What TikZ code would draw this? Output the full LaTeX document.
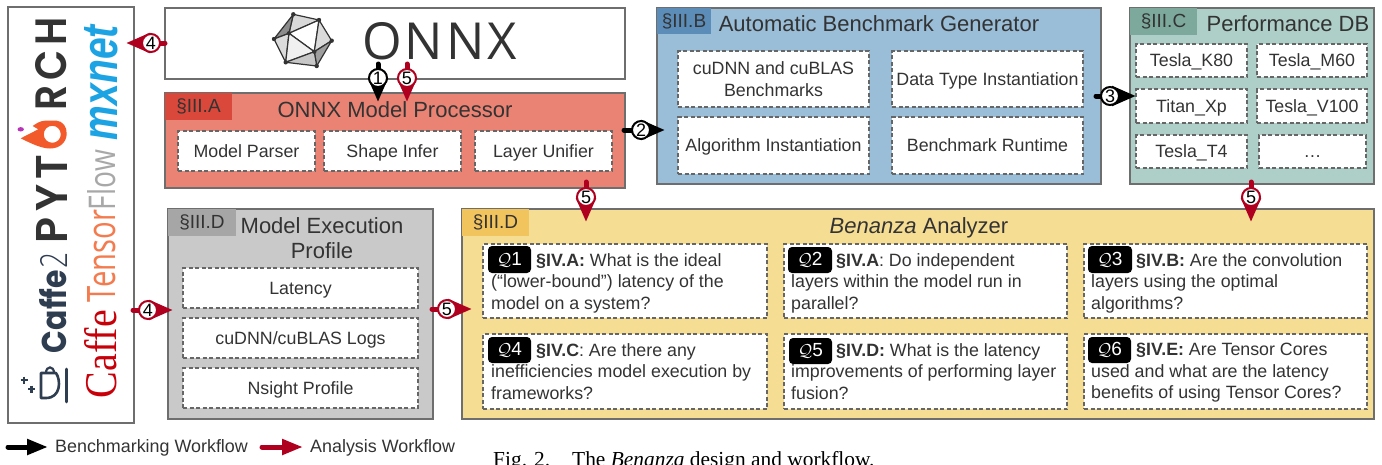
\documentclass[tikz,border=0pt]{standalone}
\usepackage{graphicx}
\usepackage{fontspec}
\setmainfont{Liberation Sans}
\newfontfamily\popf{Poppins}
\newfontfamily\popsemi{Poppins SemiBold}
\newfontfamily\opf{Open Sans}
\newfontfamily\serf{Liberation Serif}
\usetikzlibrary{arrows.meta}
\definecolor{ink}{HTML}{333333}
\definecolor{edge}{HTML}{6E6E6E}
\definecolor{dashc}{HTML}{666666}
\definecolor{redfill}{HTML}{EB8374}
\definecolor{redtag}{HTML}{D9483B}
\definecolor{bluefill}{HTML}{9ABDD8}
\definecolor{bluetag}{HTML}{5C8DB8}
\definecolor{tealfill}{HTML}{AECFC7}
\definecolor{tealtag}{HTML}{7CA99C}
\definecolor{grayfill}{HTML}{C9C9C9}
\definecolor{graytag}{HTML}{A6A6A6}
\definecolor{yelfill}{HTML}{F6DD94}
\definecolor{yeltag}{HTML}{F2C45E}
\definecolor{flowred}{HTML}{B00020}
\definecolor{torch}{HTML}{F2592B}
\definecolor{navy}{HTML}{2F3D50}
\newcommand{\fsz}[1]{\fontsize{#1pt}{21.5pt}\selectfont}
\newcommand{\bx}[7]{\node[#2,anchor=north west,minimum width={(#5-#3)*1pt},minimum height={(#6-#4)*1pt}] (#1) at (#3,#4) {#7};}
\newcommand{\flowarrow}[9]{%
  \coordinate (#1s) at (#3,#4); \coordinate (#1e) at (#7,#8);
  \draw[#2] (#1s) -- (#1e);
  \node[#2num] (#1n) at (#5,#6) {#9};}
\tikzset{
  x=1pt,y=-1pt,
  panel/.style={draw=edge,line width=2pt,inner sep=0pt,outer sep=0pt,text=ink,align=center},
  sectag/.style={fill=#1,inner sep=0pt,outer sep=0pt,text=ink,font=\fsz{19}},
  title/.style={text=ink,font=\fsz{22},inner sep=0pt,align=center,text depth=0pt},
  qbox/.style={draw=dashc,fill=white,line width=1.5pt,dash pattern=on 4pt off 2.5pt,inner sep=0pt,outer sep=0pt},
  dboxtwo/.style={qbox,text=ink,font=\fsz{17.8},align=center},
  dbox/.style={dboxtwo,text height=13pt,text depth=1pt},
  qtext/.style={anchor=north west,inner sep=0pt,text=ink,font=\fsz{17.8},align=left},
  badge/.style={fill=black,rounded corners=4pt,inner sep=0pt,outer sep=0pt,text=white,font=\fsz{19}},
  logo/.style={rotate=90,inner sep=0pt,outer sep=0pt},
  wfblack/.style={line width=5pt,black,line cap=round,-{Triangle[length=24pt,width=19pt]}},
  wfred/.style={line width=5pt,flowred,line cap=round,-{Triangle[length=24pt,width=19pt]}},
  wfblacknum/.style={circle,draw=black,fill=white,line width=2pt,inner sep=0pt,minimum size=18pt,text=black,font=\fsz{18}},
  wfrednum/.style={circle,draw=flowred,fill=white,line width=2pt,inner sep=0pt,minimum size=18pt,text=black,font=\fsz{18}},
  legblack/.style={line width=5pt,black,line cap=round,-{Triangle[length=21pt,width=15pt]}},
  legred/.style={line width=5pt,flowred,line cap=round,-{Triangle[length=21pt,width=15pt]}},
  legtext/.style={anchor=west,inner sep=0pt,text=ink,font=\fsz{17.9}},
  captext/.style={anchor=base west,inner sep=0pt,text=black,font=\serf\fsz{21.4}},
  ico/.style={draw=ink,line width=1.2pt,line join=round},
}
\begin{document}
\begin{tikzpicture}
\clip (0,0) rectangle (1382,464);
% ---- frameworks
\bx{fw}{panel,fill=white}{8}{7}{134}{423}{}
\node[logo] (ptA) at (51.5,199) {\resizebox{88pt}{31pt}{\popsemi\addfontfeature{LetterSpace=12}\color{ink}PYT}};
\node[logo] (ptB) at (51.5,63.5) {\resizebox{93pt}{31pt}{\popsemi\addfontfeature{LetterSpace=12}\color{ink}RCH}};
\fill[torch,even odd rule] (20.7,138.3) -- (38.3,129.3) .. controls (35,128) .. (32.7,126) .. controls (37,123) and (40,121) .. (45,120.7) -- (56,120.5) .. controls (63,121) and (67,127) .. (66.7,134) .. controls (66.5,142) and (60,148.5) .. (50,148.5) .. controls (42,148.5) and (32,144) .. (20.7,138.3) -- cycle (60.8,134.3) arc[start angle=0,end angle=360,radius=8.5];
\fill[violet!70!magenta!80!white] (20.7,129.3) ellipse[x radius=3.2,y radius=2.2];
\node[logo] (cf2a) at (53.5,311.5) {\resizebox{83pt}{27pt}{\popf\bfseries\color{navy}Caffe}};
\node[logo] (cf2b) at (53.5,260) {\resizebox{16pt}{27pt}{\fontspec{Open Sans Light}\color{navy}2}};
\draw[navy,line width=2.8pt,line cap=round] (66.7,369) -- (66.7,402);
\draw[navy,line width=2.6pt,line join=round] (41,373) -- (56,373) .. controls (61,380) and (61,398) .. (46,398) -- (41,398) -- cycle;
\draw[navy,line width=2.2pt] (46,373) .. controls (46,365.5) and (54,365.5) .. (54,373);
\draw[navy,line width=2.2pt] (20.5,380) -- (27.5,380) (24,376.5) -- (24,383.5) (28,389) -- (35,389) (31.5,385.5) -- (31.5,392.5);
\node[logo] (mx) at (101.5,82.5) {\resizebox{115pt}{33pt}{\bfseries\itshape\color[HTML]{1BA3E3}mxnet}};
\node[logo] (tfa) at (102,256) {\resizebox{92pt}{28pt}{\opf\color[HTML]{F47B4D}Tensor}};
\node[logo] (tfb) at (102,180) {\resizebox{60pt}{28pt}{\opf\color[HTML]{A8A8A8}Flow}};
\node[logo] (caf) at (101,354) {\resizebox{88pt}{32pt}{\serf\color[HTML]{C8000A}Caffe}};
% ---- ONNX
\bx{onnx}{panel,fill=white}{165}{8}{625}{79}{}
\coordinate (iT) at (293.3,14.3); \coordinate (iTR) at (319,20); \coordinate (iR) at (331.7,40.7);
\coordinate (iBR) at (316.7,66); \coordinate (iBL) at (285.7,62.3); \coordinate (iL) at (274,39);
\coordinate (iA) at (289,33.3); \coordinate (iB) at (314.3,51.7);
\filldraw[ico,fill=black!15] (iT)--(iTR)--(iA)--cycle;
\filldraw[ico,fill=black!45] (iL)--(iT)--(iA)--cycle;
\filldraw[ico,fill=black!14] (iL)--(iA)--(iBL)--cycle;
\filldraw[ico,fill=white] (iA)--(iTR)--(iB)--cycle;
\filldraw[ico,fill=black!6] (iA)--(iB)--(iBL)--cycle;
\filldraw[ico,fill=black!14] (iTR)--(iR)--(iB)--cycle;
\filldraw[ico,fill=black!38] (iR)--(iBR)--(iB)--cycle;
\filldraw[ico,fill=black!22] (iB)--(iBR)--(iBL)--cycle;
\foreach \p in {iT,iTR,iR,iBR,iBL,iL,iA,iB} \fill[ink] (\p) circle (2.2);
\node[inner sep=0pt,outer sep=0pt] (onnxname) at (439.5,41.5) {\resizebox{155pt}{37pt}{\opf\color{ink}\addfontfeature{LetterSpace=6}ONNX}};
% ---- Model processor
\bx{proc}{panel,fill=redfill}{165}{93}{625}{188}{}
\bx{proctag}{sectag=redtag,font=\fsz{19}}{165}{93}{232}{120}{\S III.A}
\node[title] (proct) at (395,110) {ONNX Model Processor};
\bx{mp}{dbox}{178}{131}{315}{171}{Model Parser}
\bx{si}{dbox}{324}{131}{461}{171}{Shape Infer}
\bx{lu}{dbox}{475}{131}{612}{171}{Layer Unifier}
% ---- Benchmark generator
\bx{gen}{panel,fill=bluefill}{657}{8}{1101}{184}{}
\bx{gentag}{sectag=bluetag}{657}{8}{711}{34}{\S III.B}
\node[title] (gent) at (879,24) {Automatic Benchmark Generator};
\bx{g1}{dboxtwo}{678}{51}{869}{107}{cuDNN and cuBLAS\\Benchmarks}
\bx{g2}{dbox}{892}{51}{1083}{107}{Data Type Instantiation}
\bx{g3}{dbox}{678}{117}{869}{174}{Algorithm Instantiation}
\bx{g4}{dbox}{892}{117}{1083}{174}{Benchmark Runtime}
% ---- Performance DB
\bx{db}{panel,fill=tealfill}{1130}{8}{1374}{184}{}
\bx{dbtag}{sectag=tealtag}{1130}{8}{1197}{35}{\S III.C}
\node[title] (dbt) at (1288,24) {Performance DB};
\bx{d1}{dbox}{1136}{44}{1247}{77}{Tesla\_K80}
\bx{d2}{dbox}{1257}{44}{1367}{77}{Tesla\_M60}
\bx{d3}{dbox}{1136}{89}{1247}{123}{Titan\_Xp}
\bx{d4}{dbox}{1257}{89}{1367}{123}{Tesla\_V100}
\bx{d5}{dbox}{1136}{135}{1247}{168}{Tesla\_T4}
\bx{d6}{dbox}{1259}{135}{1366}{168}{\dots}
% ---- Model execution profile
\bx{ex}{panel,fill=grayfill}{168}{209}{433}{419}{}
\bx{extag}{sectag=graytag}{168}{209}{236}{236}{\S III.D}
\node[title,font=\fontsize{22pt}{25pt}\selectfont] (ext) at (322,238) {Model Execution\\Profile};
\bx{e1}{dbox}{183}{268}{418}{308}{Latency}
\bx{e2}{dbox}{183}{318}{418}{358}{cuDNN/cuBLAS Logs}
\bx{e3}{dbox}{183}{368}{418}{408}{Nsight Profile}
% ---- Analyzer
\bx{an}{panel,fill=yelfill}{462}{209}{1374}{419}{}
\bx{antag}{sectag=yeltag}{462}{209}{529}{236}{\S III.D}
\node[title] (ant) at (919,226) {\textit{Benanza} Analyzer};
\bx{q1}{qbox}{483}{244}{767}{318}{}
\bx{q2}{qbox}{784}{244}{1067}{318}{}
\bx{q3}{qbox}{1084}{244}{1367}{318}{}
\bx{q4}{qbox}{483}{334}{767}{409}{}
\bx{q5}{qbox}{784}{334}{1067}{409}{}
\bx{q6}{qbox}{1084}{334}{1367}{409}{}
\bx{b1}{badge}{488}{246}{531}{273}{$\mathcal{Q}$1}
\bx{b2}{badge}{788}{247}{832}{273}{$\mathcal{Q}$2}
\bx{b3}{badge}{1088}{246}{1132}{273}{$\mathcal{Q}$3}
\bx{b4}{badge}{488}{337}{531}{363}{$\mathcal{Q}$4}
\bx{b5}{badge}{789}{338}{832}{364}{$\mathcal{Q}$5}
\bx{b6}{badge}{1088}{337}{1131}{363}{$\mathcal{Q}$6}
\node[qtext] (t1) at (491,253) {\hspace*{45pt}\textbf{\S IV.A:} What is the ideal\\(“lower-bound”) latency of the\\model on a system?};
\node[qtext] (t2) at (791,253) {\hspace*{45pt}\textbf{\S IV.A}: Do independent\\layers within the model run in\\parallel?};
\node[qtext] (t3) at (1091,253) {\hspace*{45pt}\textbf{\S IV.B:} Are the convolution\\layers using the optimal\\algorithms?};
\node[qtext] (t4) at (491,343) {\hspace*{45pt}\textbf{\S IV.C}: Are there any\\inefficiencies model execution by\\frameworks?};
\node[qtext] (t5) at (791,343) {\hspace*{45pt}\textbf{\S IV.D:} What is the latency\\improvements of performing layer\\fusion?};
\node[qtext] (t6) at (1091,343) {\hspace*{45pt}\textbf{\S IV.E:} Are Tensor Cores\\used and what are the latency\\benefits of using Tensor Cores?};
% ---- workflow arrows
\flowarrow{a1}{wfblack}{378}{64}{378}{78}{378}{102}{1}
\flowarrow{a5t}{wfred}{407}{64}{407}{78}{407}{102}{5}
\flowarrow{a2}{wfblack}{624}{130}{641}{130}{665}{130}{2}
\flowarrow{a3}{wfblack}{1096}{96}{1110}{96}{1136}{96}{3}
\flowarrow{a4t}{wfred}{165}{43}{151}{43}{126}{43}{4}
\flowarrow{a4b}{wfred}{133}{310}{148}{310}{173}{310}{4}
\flowarrow{a5e}{wfred}{432}{309}{447}{309}{472}{309}{5}
\flowarrow{a5p}{wfred}{586}{182}{586}{197}{586}{222}{5}
\flowarrow{a5d}{wfred}{1251}{182}{1251}{197}{1251}{222}{5}
% ---- legend
\coordinate (lbs) at (8,447); \coordinate (lbe) at (48,447);
\draw[legblack] (lbs) -- (lbe);
\node[legtext] (lbt) at (55,448) {Benchmarking Workflow};
\coordinate (lrs) at (262,447); \coordinate (lre) at (303,447);
\draw[legred] (lrs) -- (lre);
\node[legtext] (lrt) at (310,448) {Analysis Workflow};
% ---- caption
\node[captext] (capa) at (493,466.5) {Fig. 2.};
\node[captext] (capb) at (572,466.5) {The \textit{Benanza} design and workflow.};
\end{tikzpicture}
\end{document}
